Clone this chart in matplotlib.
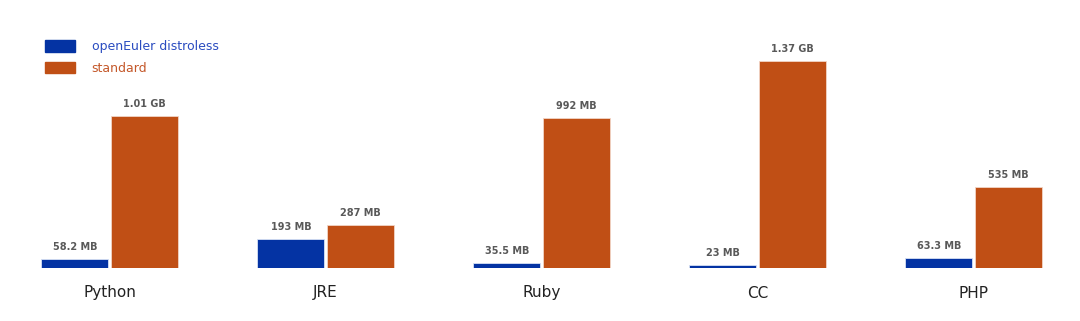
import numpy as np
import matplotlib.pyplot as plt
from matplotlib.patches import Patch

categories = ["Python", "JRE", "Ruby", "CC", "PHP"]
distroless_mb = [58.2, 193, 35.5, 23, 63.3]
standard_mb = [1010, 287, 992, 1370, 535]
distroless_labels = ["58.2 MB", "193 MB", "35.5 MB", "23 MB", "63.3 MB"]
standard_labels = ["1.01 GB", "287 MB", "992 MB", "1.37 GB", "535 MB"]

BLUE = "#0433a3"
ORANGE = "#c04f15"

fig = plt.figure(figsize=(10.8, 3.21), dpi=100)
ax = fig.add_axes([0, 53 / 321, 1, 268 / 321])

x = np.arange(len(categories), dtype=float)
width = 0.31
offset = width / 2 + 0.005

ax.bar(x - offset, distroless_mb, width, color=BLUE, edgecolor="#d8e2f5", linewidth=0.6)
ax.bar(x + offset, standard_mb, width, color=ORANGE, edgecolor="#f2d5c6", linewidth=0.6)

for xi, val, lab in zip(x, distroless_mb, distroless_labels):
    ax.annotate(lab, (xi - offset, val), xytext=(0, 5), textcoords="offset points",
                ha="center", va="bottom", fontsize=7, fontweight="bold", color="#595959")
for xi, val, lab in zip(x, standard_mb, standard_labels):
    ax.annotate(lab, (xi + offset, val), xytext=(0, 5), textcoords="offset points",
                ha="center", va="bottom", fontsize=7, fontweight="bold", color="#595959")

for xi, cat in zip(x, categories):
    ax.text(xi, -25 * 1775 / 268, cat, ha="center", va="center", fontsize=11, color="#222222")

ax.set_xlim(-109.5 / 216, (1080 - 109.5) / 216)
ax.set_ylim(0, 1775)
ax.axis("off")

handles = [Patch(color=BLUE), Patch(color=ORANGE)]
leg = ax.legend(handles, ["openEuler distroless", "standard"], loc="upper left",
                bbox_to_anchor=(34 / 1080, 1 - 29 / 268), frameon=False, fontsize=9,
                handlelength=2.4, handleheight=1.0, handletextpad=1.3, labelspacing=0.7,
                labelcolor=["#2a4cc0", "#c4582a"])

fig.savefig("out.png", dpi=100)
